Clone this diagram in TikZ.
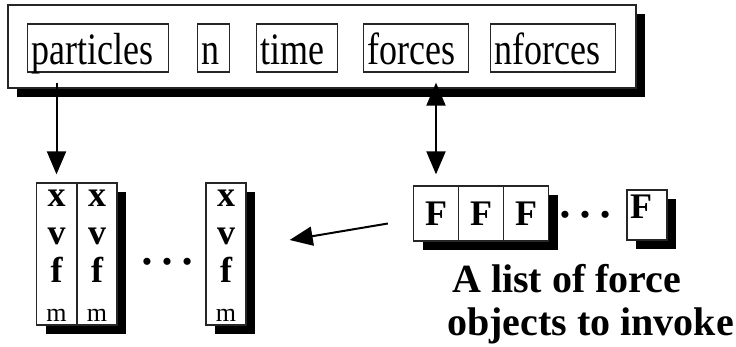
\documentclass[tikz,border=0pt]{standalone}
\usepackage{fontspec}
\setmainfont{Liberation Serif}
\usetikzlibrary{positioning,shadows,arrows.meta}
\newcommand{\tallbox}[1]{\scalebox{1}[1.25]{#1}}
\tikzset{field/.style={draw=black!85,line width=1.3pt,anchor=base west,inner xsep=4pt,inner ysep=0pt,align=left,text height=40pt,text depth=8pt,font=\fontsize{36}{40}\selectfont},
	 shadowed/.style={fill=white,drop shadow={shadow xshift=9pt,shadow yshift=-9pt,fill=black,opacity=1}},
	 record/.style={shadowed,draw=black!85,line width=1.3pt,inner sep=0pt},
	 pcol/.style={record,minimum width=40pt,minimum height=142pt},
	 fbox/.style={record,minimum width=45pt,minimum height=55pt,font=\fontsize{36}{40}\selectfont\bfseries},
	 letter/.style={anchor=base,inner sep=0pt,font=\fontsize{36}{40}\selectfont\bfseries},
	 mass/.style={anchor=base,inner sep=0pt,font=\fontsize{26}{30}\selectfont},
	 dots/.style={anchor=base,inner sep=0pt,font=\fontsize{60}{60}\selectfont},
	 note/.style={anchor=base west,inner sep=0pt,font=\fontsize{40}{44}\selectfont\bfseries},
	 ptr/.style={line width=2pt,-{Triangle[width=19pt,length=23pt]}},
	 dptr/.style={line width=2pt,{Triangle[width=19pt,length=23pt]}-{Triangle[width=19pt,length=23pt]}}
	 }
\begin{document}
\begin{tikzpicture}[x=1pt,y=-1pt] % particle system record
	\useasboundingbox (0,0) rectangle (736,346);
	% the record with its fields
	\node[record,minimum width=628pt,minimum height=83pt] (frame) at (322,46.5) {};
	\node[field,text width=133pt] (particles) at (27,64) {\tallbox{particles}};
	\node[field,text width=24pt] (n) at (197,64) {\tallbox{n}};
	\node[field,text width=73pt] (time) at (256,64) {\tallbox{time}};
	\node[field,text width=97pt] (forces) at (363,64) {\tallbox{forces}};
	\node[field,text width=117pt] (nforces) at (490,64) {\tallbox{nforces}};
	% particle array
	\node[pcol] (c1) at (56.5,254) {};
	\node[pcol] (c2) at (97,254) {};
	\node[dots] (pdots) at (167,264) {…};
	\node[pcol] (c3) at (226,254) {};
	\foreach \c in {c1,c2,c3} {
		\node[letter] (\c x) at ([yshift=-24pt]\c.north) {x};
		\node[letter] (\c v) at ([yshift=-62pt]\c.north) {v};
		\node[letter] (\c f) at ([yshift=-100pt]\c.north) {f};
		\node[mass] (\c m) at ([yshift=-139pt]\c.north) {m};
	}
	% force list
	\node[fbox] (F1) at (436,213.5) {F};
	\node[fbox] (F2) at (481,213.5) {F};
	\node[fbox] (F3) at (526,213.5) {F};
	\node[dots] (fdots) at (585,217) {…};
	\node[record,minimum width=40pt,text width=34pt,align=left,inner xsep=3pt,text height=28pt,text depth=22pt,font=\fontsize{36}{40}\selectfont\bfseries] (Fn) at (647,215) {F};
	\node[note] (note1) at (452,292) {A list of force};
	\node[note] (note2) at (447,335) {objects to invoke};
	\draw[ptr,shorten <=10pt,shorten >=8pt] (particles.south -| c1.north) -- (c1.north);
	\draw[dptr,shorten <=10pt,shorten >=11pt] (forces.south -| F1.north) -- (F1.north);
	\draw[ptr] ([shift={(-25pt,-10pt)}]F1.west) -- ([shift={(43pt,14pt)}]c3.east);
\end{tikzpicture}
\end{document}
